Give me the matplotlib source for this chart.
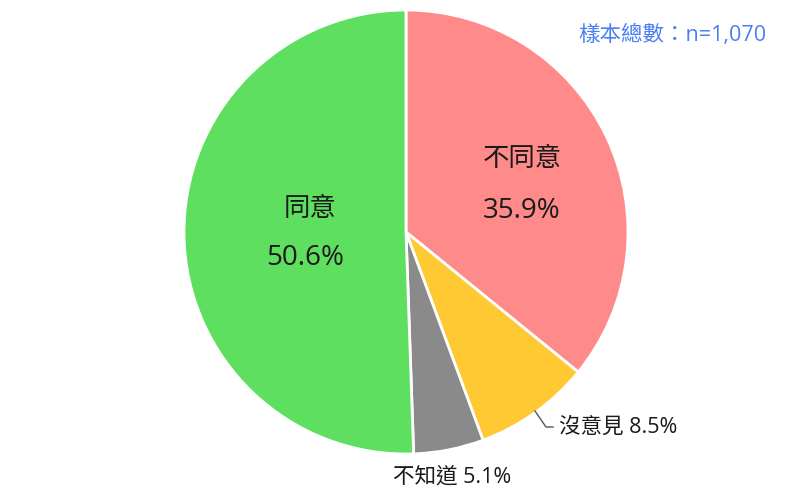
import matplotlib
matplotlib.use('Agg')
import matplotlib.pyplot as plt

plt.rcParams['font.family'] = ['Open Sans', 'Noto Sans CJK TC', 'DejaVu Sans']

# slices clockwise from 12 o'clock
labels = ['不同意', '沒意見', '不知道', '同意']
values = [35.9, 8.5, 5.1, 50.6]
colors = ['#ff8a8a', '#ffc933', '#8a8a8a', '#5fdf5f']
sample_note = '樣本總數：n=1,070'

W, H = 800, 497
fig = plt.figure(figsize=(W / 100, H / 100), dpi=100)
ax = fig.add_axes([0, 0, 1, 1])

cx, cy, r = 406, H - 232, 222
ax.pie(values, colors=colors, startangle=90, counterclock=False,
       center=(cx, cy), radius=r, frame=True,
       wedgeprops=dict(edgecolor='white', linewidth=2))
ax.set_xlim(0, W)
ax.set_ylim(0, H)
ax.set_aspect('equal')
ax.axis('off')

txt = '#1a1a1a'
# inner labels
ax.text(522, H - 160, labels[0], ha='center', va='center', fontsize=19,
        color=txt, fontweight='medium')
ax.text(522, H - 211, f'{values[0]}%', ha='center', va='center', fontsize=20,
        color=txt, fontweight='medium')
ax.text(310, H - 210, labels[3], ha='center', va='center', fontsize=19,
        color=txt, fontweight='medium')
ax.text(305, H - 258, f'{values[3]}%', ha='center', va='center', fontsize=20,
        color=txt, fontweight='medium')

# outer labels
ax.plot([535, 546, 553], [H - 411, H - 427, H - 427], color='#555555', lw=1)
ax.text(559, H - 427, f'{labels[1]} {values[1]}%', ha='left', va='center',
        fontsize=15.5, color=txt, fontweight='medium')
ax.text(393, H - 477, f'{labels[2]} {values[2]}%', ha='left', va='center',
        fontsize=15.5, color=txt, fontweight='medium')

ax.text(766, H - 35, sample_note, ha='right', va='center', fontsize=15.5,
        color='#4a7ef5', fontweight='medium')

fig.savefig('out.png', dpi=100)
